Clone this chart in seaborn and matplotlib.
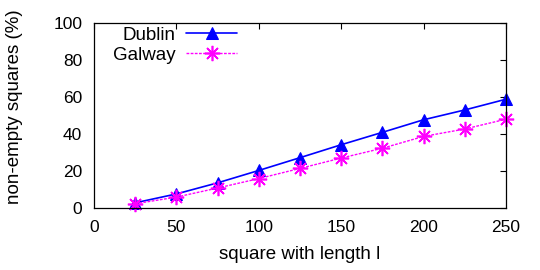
import matplotlib
matplotlib.use("Agg")
import matplotlib.pyplot as plt
import seaborn as sns
import pandas as pd

lengths = [25, 50, 75, 100, 125, 150, 175, 200, 225, 250]
dublin = [2.8, 7.6, 13.6, 20.3, 27.2, 34.2, 40.9, 47.7, 53.0, 58.8]
galway = [2.3, 5.9, 10.8, 15.9, 21.4, 27.0, 32.3, 38.7, 42.7, 48.0]
x_ticks = [0, 50, 100, 150, 200, 250]
y_ticks = [0, 20, 40, 60, 80, 100]

sns.set_style("white")
plt.rcParams['font.family'] = ['Liberation Sans', 'DejaVu Sans']
plt.rcParams['text.color'] = 'black'
plt.rcParams['axes.labelcolor'] = 'black'
plt.rcParams['xtick.color'] = 'black'
plt.rcParams['ytick.color'] = 'black'

df = pd.DataFrame({"l": lengths * 2,
                   "v": dublin + galway,
                   "city": ["Dublin"] * len(lengths) + ["Galway"] * len(lengths)})

fig = plt.figure(figsize=(5.4, 2.7), dpi=100)
ax = fig.add_axes([94/540, 1 - 208/270, (506-94)/540, (208-23)/270])

sns.lineplot(data=df[df.city == "Dublin"], x="l", y="v", ax=ax, color="#0000ff",
             marker="^", markersize=9, markeredgecolor="#0000ff", linewidth=1.2,
             label="Dublin", clip_on=False, legend=False)
sns.lineplot(data=df[df.city == "Galway"], x="l", y="v", ax=ax, color="#ff00ff",
             marker=(8, 2, 0), markersize=11, markeredgewidth=1.2, markeredgecolor="#ff00ff",
             linewidth=1.0, linestyle=(0, (2, 1)), label="Galway", clip_on=False, legend=False)

ax.set_xlim(0, 250)
ax.set_ylim(0, 100)
ax.set_xticks(x_ticks)
ax.set_yticks(y_ticks)
ax.tick_params(direction="in", length=4, width=0.8, top=True, right=True,
               labelsize=12.5, colors="black", pad=8.5)
for s in ax.spines.values():
    s.set_linewidth(0.9)
    s.set_color("black")
ax.set_xlabel("square with length l", fontsize=13.5, labelpad=8, color="black")
ax.set_ylabel("non-empty squares (%)", fontsize=13.5, color="black")
ax.yaxis.set_label_coords(-0.172, 0.55)

lines = ax.get_lines()
legend_rows = [(lines[0], "Dublin", 35), (lines[1], "Galway", 55)]
legs = []
for handle, lab, ypix in legend_rows:
    lg = ax.legend([handle], [lab], loc="center right", frameon=False, markerfirst=False,
                   fontsize=13.5, handlelength=2.7, handletextpad=0.6,
                   borderpad=0, borderaxespad=0, labelcolor="black",
                   bbox_to_anchor=(237/540, 1 - ypix/270), bbox_transform=fig.transFigure)
    legs.append(lg)
for lg in legs[:-1]:
    ax.add_artist(lg)

fig.savefig("out.png", dpi=100)
